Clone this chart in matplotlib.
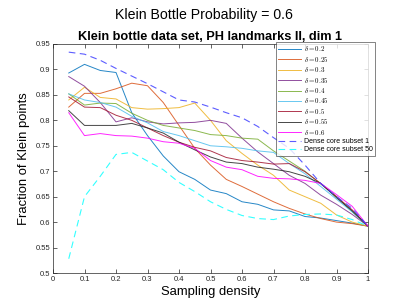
import numpy as np
import matplotlib
matplotlib.use("Agg")
import matplotlib.pyplot as plt

plt.rcParams['font.family'] = ['Liberation Sans', 'DejaVu Sans']
plt.rcParams['mathtext.fontset'] = 'cm'

# sampling density
density = [0.05, 0.1, 0.15, 0.2, 0.25, 0.3, 0.35, 0.4, 0.45, 0.5,
           0.55, 0.6, 0.65, 0.7, 0.75, 0.8, 0.85, 0.9, 0.95, 1.0]

deltas = ['0.2', '0.25', '0.3', '0.35', '0.4', '0.45', '0.5', '0.55', '0.6']

d020 = [0.893, 0.910, 0.898, 0.894, 0.815, 0.770, 0.730, 0.699, 0.684, 0.663,
        0.656, 0.640, 0.635, 0.624, 0.622, 0.611, 0.608, 0.603, 0.598, 0.592]
d025 = [0.826, 0.853, 0.853, 0.862, 0.873, 0.868, 0.835, 0.790, 0.745, 0.712,
        0.684, 0.670, 0.655, 0.640, 0.627, 0.616, 0.607, 0.600, 0.597, 0.592]
d030 = [0.840, 0.865, 0.845, 0.842, 0.825, 0.822, 0.823, 0.825, 0.834, 0.800,
        0.760, 0.735, 0.712, 0.692, 0.663, 0.650, 0.637, 0.614, 0.600, 0.592]
d035 = [0.886, 0.867, 0.835, 0.797, 0.805, 0.797, 0.793, 0.795, 0.796, 0.800,
        0.794, 0.765, 0.738, 0.715, 0.692, 0.676, 0.653, 0.635, 0.615, 0.592]
d040 = [0.852, 0.830, 0.834, 0.833, 0.814, 0.800, 0.790, 0.785, 0.780, 0.772,
        0.770, 0.765, 0.763, 0.740, 0.720, 0.700, 0.675, 0.650, 0.620, 0.592]
d045 = [0.852, 0.840, 0.835, 0.826, 0.808, 0.795, 0.778, 0.770, 0.760, 0.750,
        0.748, 0.745, 0.740, 0.737, 0.715, 0.695, 0.670, 0.645, 0.620, 0.592]
d050 = [0.846, 0.826, 0.825, 0.810, 0.800, 0.785, 0.770, 0.757, 0.747, 0.740,
        0.727, 0.721, 0.718, 0.714, 0.715, 0.699, 0.676, 0.650, 0.624, 0.592]
d055 = [0.819, 0.790, 0.790, 0.790, 0.794, 0.785, 0.775, 0.757, 0.742, 0.728,
        0.718, 0.715, 0.708, 0.704, 0.699, 0.690, 0.676, 0.648, 0.622, 0.592]
d060 = [0.815, 0.770, 0.774, 0.770, 0.769, 0.765, 0.758, 0.755, 0.745, 0.721,
        0.708, 0.703, 0.690, 0.686, 0.685, 0.682, 0.676, 0.654, 0.631, 0.592]

core1 = [0.934, 0.930, 0.918, 0.902, 0.887, 0.872, 0.856, 0.840, 0.836, 0.826,
         0.815, 0.805, 0.788, 0.766, 0.745, 0.712, 0.676, 0.650, 0.627, 0.592]
core50 = [0.528, 0.650, 0.690, 0.733, 0.737, 0.720, 0.703, 0.678, 0.660, 0.640,
          0.625, 0.613, 0.607, 0.605, 0.612, 0.615, 0.616, 0.614, 0.605, 0.592]

delta_series = [d020, d025, d030, d035, d040, d045, d050, d055, d060]
colors = ['#0072bd', '#d95319', '#edb120', '#7e2f8e', '#77ac30',
          '#4dbeee', '#a2142f', '#262626', '#ff00ff']

fig = plt.figure(figsize=(4.07, 3.05), dpi=100)
ax = fig.add_axes([53 / 407, 1 - 273 / 305, 315 / 407, 229 / 305])

for vals, c, d in zip(delta_series, colors, deltas):
    ax.plot(density, vals, color=c, lw=0.7, alpha=0.85, label=r'$\delta = %s$' % d)
ax.plot(density, core1, color='#4040ff', lw=0.8, ls=(0, (6, 4)), alpha=0.85,
        label='Dense core subset 1')
ax.plot(density, core50, color='#33ffff', lw=0.8, ls=(0, (6, 4)),
        label='Dense core subset 50')

ax.set_xlim(0, 1)
ax.set_ylim(0.5, 0.95)
ax.set_xticks(np.arange(0, 1.01, 0.1))
ax.set_xticklabels(['0', '0.1', '0.2', '0.3', '0.4', '0.5', '0.6', '0.7', '0.8', '0.9', '1'])
ax.set_yticks(np.arange(0.5, 0.951, 0.05))
ax.set_yticklabels(['0.5', '0.55', '0.6', '0.65', '0.7', '0.75', '0.8', '0.85', '0.9', '0.95'])
ax.tick_params(direction='in', top=True, right=True, labelsize=5.5, length=3,
               width=0.5, colors='#262626', pad=2)
for s in ax.spines.values():
    s.set_linewidth(0.5)
    s.set_color('#262626')

ax.set_xlabel('Sampling density', fontsize=9.4, labelpad=2)
ax.set_ylabel('Fraction of Klein points', fontsize=9.4, labelpad=4)
ax.set_title('Klein bottle data set, PH landmarks II, dim 1', fontsize=9.2,
             fontweight='bold', pad=3)
fig.text(0.5, 1 - 15 / 305, 'Klein Bottle Probability = 0.6', fontsize=10.2,
         ha='center', va='center')

leg = ax.legend(loc='upper left', bbox_to_anchor=(276 / 407, 1 - 42 / 305),
                bbox_transform=fig.transFigure, fontsize=5, frameon=True,
                fancybox=False, borderpad=0.35, labelspacing=0.2,
                handlelength=3.2, handletextpad=0.5, borderaxespad=0)
leg.get_frame().set_edgecolor('#262626')
leg.get_frame().set_linewidth(0.5)

fig.savefig('out.png', dpi=100)
